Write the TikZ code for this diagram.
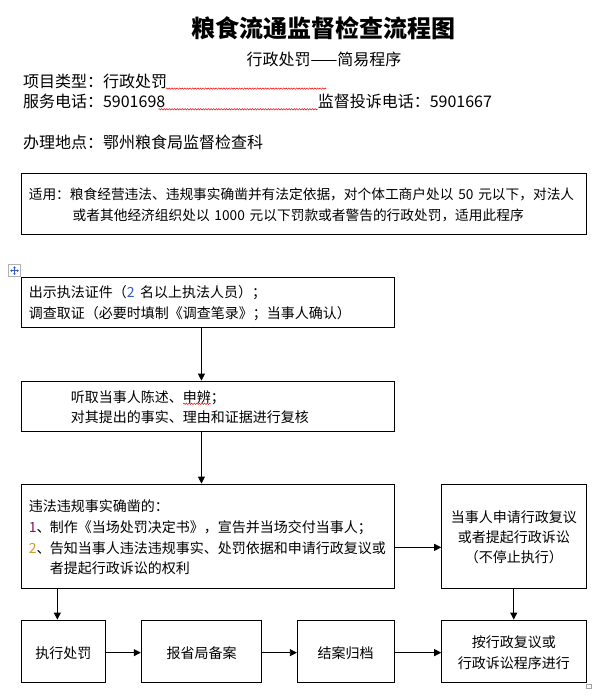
\documentclass[tikz,border=0pt]{standalone}
\usepackage{fontspec}
\setmainfont{Noto Sans CJK SC}
\usetikzlibrary{arrows.meta,decorations.pathmorphing}
\newcommand{\fsz}[1]{\fontsize{#1}{#1}\selectfont}
\definecolor{numblue}{RGB}{50,90,200}
\definecolor{numpurple}{RGB}{130,20,90}
\definecolor{numorange}{RGB}{215,150,40}
\begin{document}
\begin{tikzpicture}[x=1pt,y=-1pt,
  box/.style={draw,line width=0.8pt,inner sep=0pt},
  arr/.style={line width=0.8pt,-{Triangle[length=7pt,width=7pt]}},
  txt/.style={anchor=base west,inner sep=0pt},
  ctxt/.style={anchor=base,inner sep=0pt},
  wavy/.style={red,line width=0.5pt,decorate,decoration={zigzag,segment length=2.6pt,amplitude=0.7pt}}]
\useasboundingbox (0,0) rectangle (598,698);
\fill[white] (0,0) rectangle (598,698);
% header
\node[ctxt,font=\fsz{24}\bfseries] (title) at (323.5,37.4) {粮食流通监督检查流程图};
\node[ctxt,font=\fsz{16}] (sub) at (324,65.4) {行政处罚——简易程序};
\node[txt,font=\fsz{16}] (h1) at (22.9,87.1) {项目类型：行政处罚};
\node[txt,font=\fsz{16}] (h2) at (22.9,107.1) {服务电话：5901698};
\node[txt,font=\fsz{16}] (h3) at (317.6,107.1) {监督投诉电话：5901667};
\node[txt,font=\fsz{16}] (h4) at (22.9,148.8) {办理地点：鄂州粮食局监督检查科};
\draw[wavy] (166,88.6) -- (326.3,88.6);
\draw[wavy] (158.4,109.3) -- (317.6,109.3);
% applicability box
\node[box,minimum width=564.9pt,minimum height=60.7pt] (b1) at (303.45,203.65) {};
\node[txt,font=\fsz{13.7}] (b1l1) at (28.6,199.5) {适用：粮食经营违法、违规事实确凿并有法定依据，对个体工商户处以\hspace{0.35em}50\hspace{0.35em}元以下，对法人};
\node[txt,font=\fsz{13.7}] (b1l2) at (72.5,220.2) {或者其他经济组织处以\hspace{0.35em}1000\hspace{0.35em}元以下罚款或者警告的行政处罚，适用此程序};
% table move icon
\draw[gray!60,fill=white,line width=0.5pt] (8.3,264.7) rectangle (20.7,276.7);
\draw[numblue,line width=0.6pt,{Triangle[length=1.6pt,width=2.4pt]}-{Triangle[length=1.6pt,width=2.4pt]}] (10.2,270.7) -- (18.8,270.7);
\draw[numblue,line width=0.6pt,{Triangle[length=1.6pt,width=2.4pt]}-{Triangle[length=1.6pt,width=2.4pt]}] (14.5,266.4) -- (14.5,275);
% box 2
\node[box,minimum width=372.9pt,minimum height=50pt] (b2) at (207.45,302.3) {};
\node[txt,font=\fsz{14}] at (28.6,297.6) {出示执法证件（\textcolor{numblue}{2}\hspace{0.4em}名以上执法人员）；};
\node[txt,font=\fsz{14}] at (28.6,318.6) {调查取证（必要时填制《调查笔录》；当事人确认）};
% box 3
\node[box,minimum width=372.9pt,minimum height=50.7pt] (b3) at (207.45,406.35) {};
\node[txt,font=\fsz{14}] at (70.6,402) {听取当事人陈述、申辨；};
\node[txt,font=\fsz{14}] at (70.6,422) {对其提出的事实、理由和证据进行复核};
\draw[wavy] (183.2,403.8) -- (210.7,403.8);
% box 4
\node[box,minimum width=372.9pt,minimum height=104.3pt] (b4) at (207.45,536.15) {};
\node[txt,font=\fsz{14}] at (28.6,511.3) {违法违规事实确凿的：};
\node[txt,font=\fsz{14}] at (28.6,532) {\textcolor{numpurple}{1}、};
\node[txt,font=\fsz{14}] at (49.6,532) {制作《当场处罚决定书》，宣告并当场交付当事人；};
\node[txt,font=\fsz{14}] at (28.6,553.6) {\textcolor{numorange}{2}、};
\node[txt,font=\fsz{14}] at (49.6,553.6) {告知当事人违法违规事实、处罚依据和申请行政复议或};
\node[txt,font=\fsz{14}] at (49.6,573.6) {者提起行政诉讼的权利};
% box 5
\node[box,minimum width=144.3pt,minimum height=104.3pt] (b5) at (513.75,536.15) {};
\node[ctxt,font=\fsz{14}] at (513.75,522) {当事人申请行政复议};
\node[ctxt,font=\fsz{14}] at (513.75,542) {或者提起行政诉讼};
\node[ctxt,font=\fsz{14}] at (513.75,562.6) {（不停止执行）};
% bottom boxes
\node[box,minimum width=84.7pt,minimum height=62.7pt] (b6) at (63.35,651.35) {};
\node[ctxt,font=\fsz{14}] at (63.35,658) {执行处罚};
\node[box,minimum width=120.6pt,minimum height=62.7pt] (b7) at (201.5,651.35) {};
\node[ctxt,font=\fsz{14}] at (201.5,658) {报省局备案};
\node[box,minimum width=96.6pt,minimum height=62.7pt] (b8) at (345.6,651.35) {};
\node[ctxt,font=\fsz{14}] at (345.6,658) {结案归档};
\node[box,minimum width=144.3pt,minimum height=62.7pt] (b9) at (513.75,651.35) {};
\node[ctxt,font=\fsz{14}] at (513.75,647) {按行政复议或};
\node[ctxt,font=\fsz{14}] at (513.75,668) {行政诉讼程序进行};
% small end-of-cell mark
\draw[gray!70,line width=0.5pt] (586.5,684) rectangle (591,688.5);
% connectors
\draw[arr] ([xshift=-6pt]b2.south) -- ([xshift=-6pt]b3.north);
\draw[arr] ([xshift=-6pt]b3.south) -- ([xshift=-6pt]b4.north);
\draw[arr] ([yshift=-11.2pt]b4.east) -- ([yshift=-11.2pt]b5.west);
\draw[arr] ([xshift=-6pt]b6.north |- b4.south) -- ([xshift=-6pt]b6.north);
\draw[arr] (b5) -- (b9);
\draw[arr] ([yshift=-1.3pt]b6.east) -- ([yshift=-1.3pt]b7.west);
\draw[arr] ([yshift=-1.3pt]b7.east) -- ([yshift=-1.3pt]b8.west);
\draw[arr] ([yshift=-1.3pt]b8.east) -- ([yshift=-1.3pt]b9.west);
\end{tikzpicture}
\end{document}
